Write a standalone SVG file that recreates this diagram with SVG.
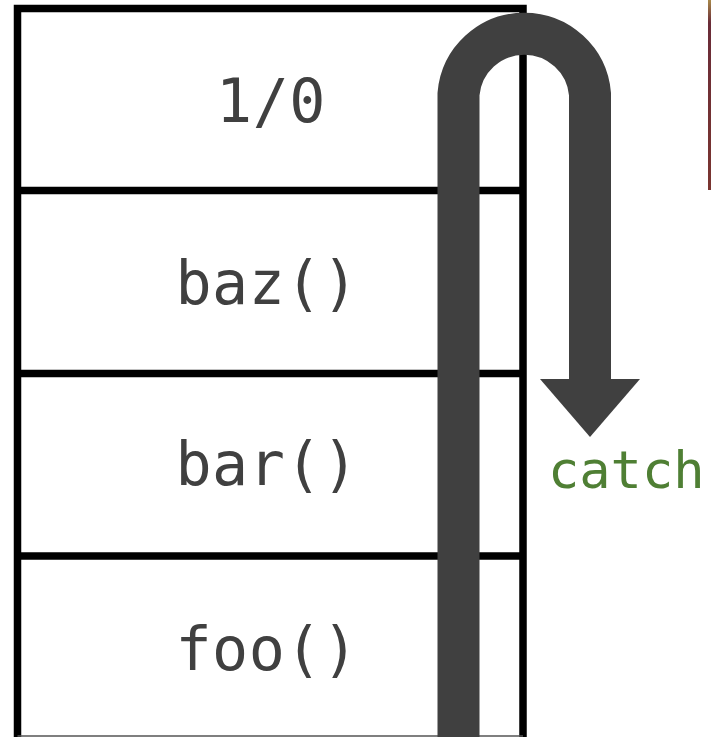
<svg xmlns="http://www.w3.org/2000/svg" width="711" height="737" viewBox="0 0 711 737">
  <style>
    .frame { fill: none; stroke: #000; stroke-width: 7.5; }
    .label { font-family: "DejaVu Sans Mono", "Liberation Mono", monospace; font-size: 60px; fill: #404040; text-anchor: middle; letter-spacing: 0.5px; }
    .catch { font-family: "DejaVu Sans Mono", "Liberation Mono", monospace; font-size: 52px; fill: #4f7f34; }
    .flow { fill: none; stroke: #404040; stroke-width: 42; }
  </style>
  <defs>
    <linearGradient id="edge" x1="0" y1="0" x2="0" y2="1">
      <stop offset="0" stop-color="#a8894a"/>
      <stop offset="0.12" stop-color="#6a2c38"/>
      <stop offset="1" stop-color="#7a3530"/>
    </linearGradient>
  </defs>
  <rect x="0" y="0" width="711" height="737" fill="#fff"/>
  <rect x="708" y="0" width="3" height="190" fill="url(#edge)"/>

  <!-- call stack frames -->
  <g id="frame-div">
    <path class="frame" d="M17.5,8.5 H523 M17.5,4.8 V737 M523,4.8 V737"/>
    <line x1="17.5" y1="190.5" x2="523" y2="190.5" class="frame"/>
    <text class="label" x="271" y="122">1/0</text>
  </g>
  <g id="frame-baz">
    <line x1="17.5" y1="373.5" x2="523" y2="373.5" class="frame"/>
    <text class="label" x="267" y="304">baz()</text>
  </g>
  <g id="frame-bar">
    <line x1="17.5" y1="556" x2="523" y2="556" class="frame"/>
    <text class="label" x="267" y="485">bar()</text>
  </g>
  <g id="frame-foo">
    <line x1="17.5" y1="736" x2="523" y2="736" stroke="#555" stroke-width="1.5"/>
    <text class="label" x="267" y="670">foo()</text>
  </g>

  <!-- exception unwinding path -->
  <g id="connectors">
    <path class="flow" d="M458.5,737 V94 A66,66 0 0 1 590,94 V380"/>
    <polygon points="540,379 640,379 590,437" fill="#404040"/>
  </g>
  <g id="catch-label">
    <text class="catch" x="548" y="488">catch</text>
  </g>
</svg>
